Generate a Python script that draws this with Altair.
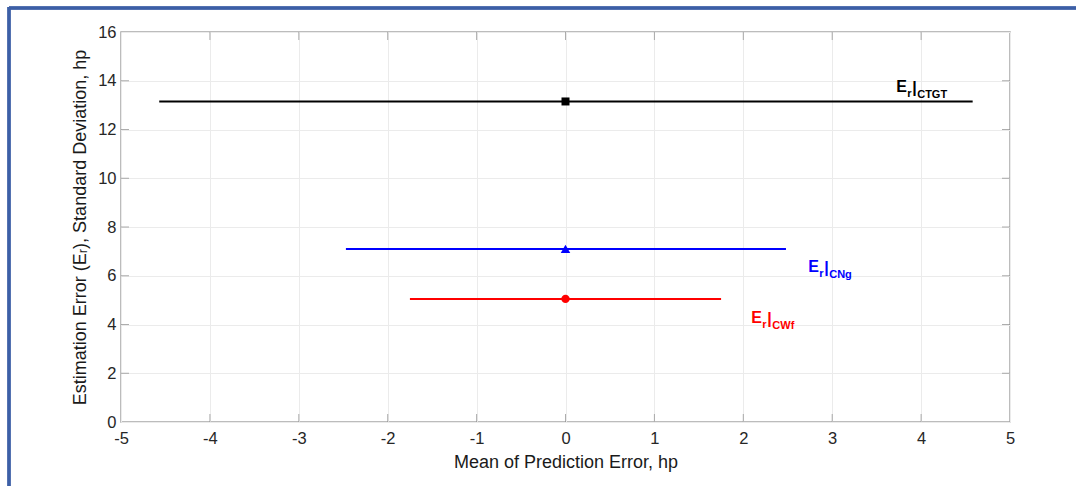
import altair as alt
import pandas as pd

# ---- data ----
series = ["CTGT", "CNg", "CWf"]
mean_err = [0.0, 0.0, 0.0]
std_dev = [13.15, 7.1, 5.05]
lo = [-4.57, -2.47, -1.75]
hi = [4.58, 2.48, 1.75]
colors = ["#000000", "#0000ff", "#ff0000"]
shapes = ["square", "triangle-up", "circle"]
sizes = [64, 90, 70]

label_x = [3.72, 2.73, 2.09]
label_y = [13.55, 6.15, 4.05]

x_ticks = [-5, -4, -3, -2, -1, 0, 1, 2, 3, 4, 5]
y_ticks = [0, 2, 4, 6, 8, 10, 12, 14, 16]

W, H = 889, 390
FONT = "Liberation Sans"
LBL = 16.5
TTL = 18

df = pd.DataFrame({"series": series, "mean": mean_err, "sd": std_dev,
                   "lo": lo, "hi": hi, "color": colors, "shape": shapes, "size": sizes})
lab = pd.DataFrame({"series": series, "x": label_x, "y": label_y, "color": colors,
                    "E": ["E"] * 3, "r": ["r"] * 3, "bar": ["|"] * 3, "sub": series})

xs = alt.Scale(domain=[-5, 5], nice=False, zero=False)
ys = alt.Scale(domain=[0, 16], nice=False, zero=False)

common = dict(grid=True, ticks=False, domain=False, labelFont=FONT, titleFont=FONT,
              labelFontSize=LBL, titleFontSize=TTL, labelColor="#262626",
              titleColor="#1a1a1a", titleFontWeight="normal", labelFlush=False,
              gridColor="#ebebeb", gridWidth=1, labelExpr="toString(datum.value)")

xaxis = alt.Axis(values=x_ticks, title="Mean of Prediction Error, hp",
                 labelPadding=8, titlePadding=7, **common)
yaxis = alt.Axis(values=y_ticks, title="Estimation Error (Eᵣ), Standard Deviation, hp",
                 labelPadding=5, titlePadding=8, **common)

base = alt.Chart(df)

axes_layer = base.mark_point(opacity=0).encode(
    x=alt.X("mean:Q", scale=xs, axis=xaxis),
    y=alt.Y("sd:Q", scale=ys, axis=yaxis),
)

lines = base.mark_rule(strokeWidth=2).encode(
    x=alt.X("lo:Q", scale=xs), x2="hi:Q",
    y=alt.Y("sd:Q", scale=ys),
    color=alt.Color("color:N", scale=None),
)

points = base.mark_point(filled=True, opacity=1).encode(
    x=alt.X("mean:Q", scale=xs),
    y=alt.Y("sd:Q", scale=ys),
    color=alt.Color("color:N", scale=None),
    shape=alt.Shape("shape:N", scale=None),
    size=alt.Size("size:Q", scale=None),
)

tick_df_x = pd.DataFrame({"v": x_ticks[1:-1]})
tick_df_y = pd.DataFrame({"v": y_ticks[1:-1]})
tick_color = "#8a8a8a"
xt_bottom = alt.Chart(tick_df_x).mark_tick(orient="vertical", size=8, thickness=1, color=tick_color).encode(
    x=alt.X("v:Q", scale=xs), y=alt.value(H - 4))
xt_top = alt.Chart(tick_df_x).mark_tick(orient="vertical", size=8, thickness=1, color=tick_color).encode(
    x=alt.X("v:Q", scale=xs), y=alt.value(4))
yt_left = alt.Chart(tick_df_y).mark_tick(orient="horizontal", size=8, thickness=1, color=tick_color).encode(
    y=alt.Y("v:Q", scale=ys), x=alt.value(4))
yt_right = alt.Chart(tick_df_y).mark_tick(orient="horizontal", size=8, thickness=1, color=tick_color).encode(
    y=alt.Y("v:Q", scale=ys), x=alt.value(W - 4))

lbase = alt.Chart(lab)
def piece(field, size, dx, dy):
    return lbase.mark_text(align="left", baseline="alphabetic", fontWeight="bold",
                           font=FONT, fontSize=size, dx=dx, dy=dy).encode(
        x=alt.X("x:Q", scale=xs), y=alt.Y("y:Q", scale=ys),
        text=f"{field}:N", color=alt.Color("color:N", scale=None))

labels = piece("E", 16, 0, 0) + piece("r", 11, 11, 5) + piece("bar", 16, 16, 1) + piece("sub", 11, 21, 6)

# figure frame (blue border, top and left visible)
frame_top = alt.Chart(df).mark_rule(color="#3c5fa6", strokeWidth=3).encode(
    x=alt.value(-112), x2=alt.value(960), y=alt.value(-24))
frame_left = alt.Chart(df).mark_rule(color="#3c5fa6", strokeWidth=3).encode(
    x=alt.value(-112), y=alt.value(-25), y2=alt.value(460))

chart = alt.layer(
    axes_layer, xt_bottom, xt_top, yt_left, yt_right, lines, points, labels, frame_top, frame_left
).properties(
    width=W, height=H,
    autosize=alt.AutoSizeParams(type="none"),
    padding={"left": 121, "top": 32, "right": 66, "bottom": 64},
    background="white",
).configure_view(
    stroke="#a6a6a6", strokeWidth=1.5
)

chart.save("out.html", embed_options={"renderer": "svg", "actions": False})
